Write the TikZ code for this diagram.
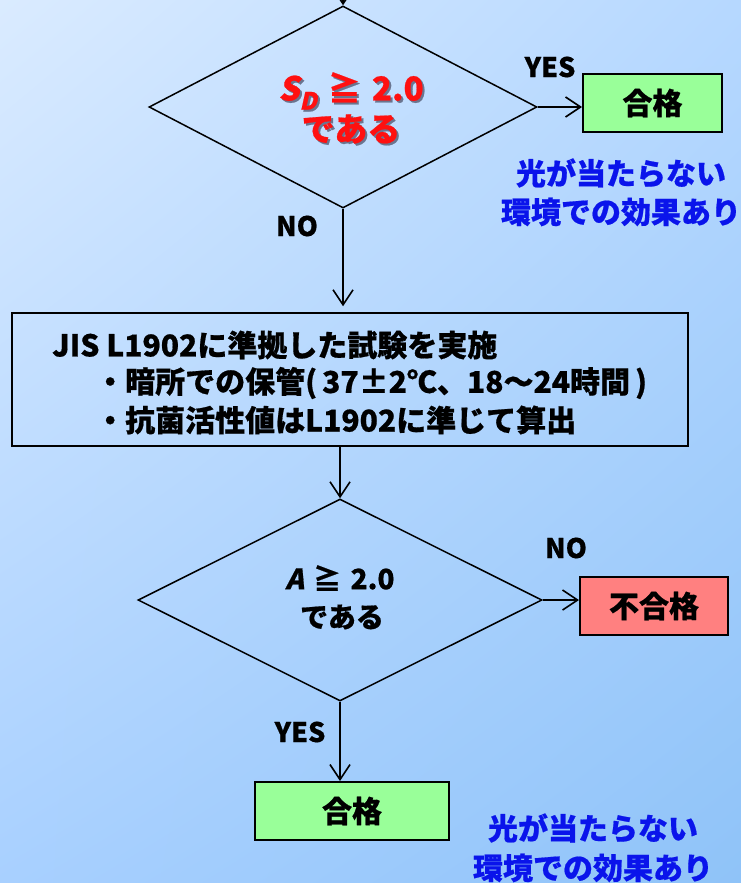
\documentclass[tikz,border=0pt]{standalone}
\usepackage{fontspec}
\setmainfont{Noto Sans CJK JP}[BoldFeatures={FakeBold=0.6}]
\newfontfamily\jpit{Noto Sans CJK JP}[FakeSlant=0.22,BoldFeatures={FakeBold=0.6}]
\usetikzlibrary{arrows.meta,shapes.geometric,shadings}
\definecolor{bgA}{HTML}{DAEBFF}
\definecolor{bgB}{HTML}{B6D8FF}
\definecolor{bgC}{HTML}{A8D0FF}
\definecolor{bgD}{HTML}{8FC3F8}
\definecolor{okgreen}{HTML}{99FF99}
\definecolor{ngred}{HTML}{FF8080}
\definecolor{noteblue}{HTML}{0A14EB}
\definecolor{redtxt}{HTML}{FF1010}
\definecolor{shadowc}{HTML}{6A7590}
\newcommand{\shadowed}[1]{\makebox[0pt][l]{\hspace{2pt}\raisebox{-2pt}{\color{shadowc}#1}}{\color{redtxt}#1}}
\newcommand{\SDtxt}{{\jpit S}\raisebox{-0.28em}{\fontsize{24}{24}\selectfont\jpit D}\,\,≧\,\,2.0}
\begin{document}
\begin{tikzpicture}[x=1pt,y=-1pt,
  conn/.style={line width=1.6pt,-{Straight Barb[length=15pt,width=20pt,line width=1.6pt]}},
  dia/.style={draw,shape=diamond,line width=1.5pt,inner sep=0pt},
  resbox/.style={draw,line width=2pt,inner sep=0pt,minimum height=58pt,font=\bfseries\fontsize{30}{32}\selectfont},
  lbl/.style={font=\bfseries\fontsize{27}{29}\selectfont,inner sep=0pt},
  body/.style={font=\bfseries\fontsize{30}{32}\selectfont,inner sep=0pt,anchor=west},
  note/.style={font=\bfseries\fontsize{30}{32}\selectfont,text=noteblue,inner sep=0pt},
  bigred/.style={font=\bfseries\fontsize{33}{35}\selectfont,inner sep=0pt},
  dtxt/.style={font=\bfseries\fontsize{28}{30}\selectfont,inner sep=0pt}
]
\useasboundingbox (0,0) rectangle (741,883);
\shade[upper left=bgA,upper right=bgB,lower left=bgC,lower right=bgD] (0,0) rectangle (741,883);

% decision 1
\node[dia,minimum width=388pt,minimum height=202pt] (d1) at (343,107) {};
\coordinate (topin) at (343,-12);
\node[bigred] (d1t1) at (351,92) {\shadowed{\SDtxt}};
\node[bigred] (d1t2) at (351,130) {\shadowed{である}};

\node[resbox,fill=okgreen,minimum width=139pt] (ok1) at (652.5,103) {合格};
\node[lbl] (yes1) at (550,67) {YES};
\node[note] (n1a) at (621,173) {光が当たらない};
\node[note] (n1b) at (621,212) {環境での効果あり};
\node[lbl] (no1) at (297,226) {NO};

% test box
\node[draw,line width=1.5pt,minimum width=676pt,minimum height=133pt,inner sep=0pt] (jis) at (350,379.5) {};
\node[body] (j1) at (52,345) {JIS L1902に準拠した試験を実施};
\node[body] (j2) at (95,383) {・暗所での保管(\hspace{5pt}37±2℃、18～24時間\hspace{5pt})};
\node[body] (j3) at (95,420) {・抗菌活性値はL1902に準じて算出};

% decision 2
\node[dia,minimum width=404pt,minimum height=202pt] (d2) at (340,600) {};
\node[dtxt] (d2t1) at (340,578) {{\jpit A}\,\,≧\,\,2.0};
\node[dtxt] (d2t2) at (342,617) {である};

\node[resbox,fill=ngred,minimum width=148pt] (ng) at (654,606) {不合格};
\node[lbl] (no2) at (566,548) {NO};
\node[lbl] (yes2) at (300,732) {YES};
\node[resbox,fill=okgreen,minimum width=194pt] (ok2) at (352,811) {合格};
\node[note] (n2a) at (593,828) {光が当たらない};
\node[note] (n2b) at (593,868) {環境での効果あり};

% connectors
\draw[conn] (topin) -- (d1.north);
\draw[conn] (d1.east) -- (d1.east -| ok1.west);
\draw[conn,shorten >=6pt] (d1.south) -- (d1.south |- jis.north);
\draw[conn] (d2.north |- jis.south) -- (d2.north);
\draw[conn] (d2.east) -- (d2.east -| ng.west);
\draw[conn] (d2.south) -- (d2.south |- ok2.north);
\end{tikzpicture}
\end{document}
